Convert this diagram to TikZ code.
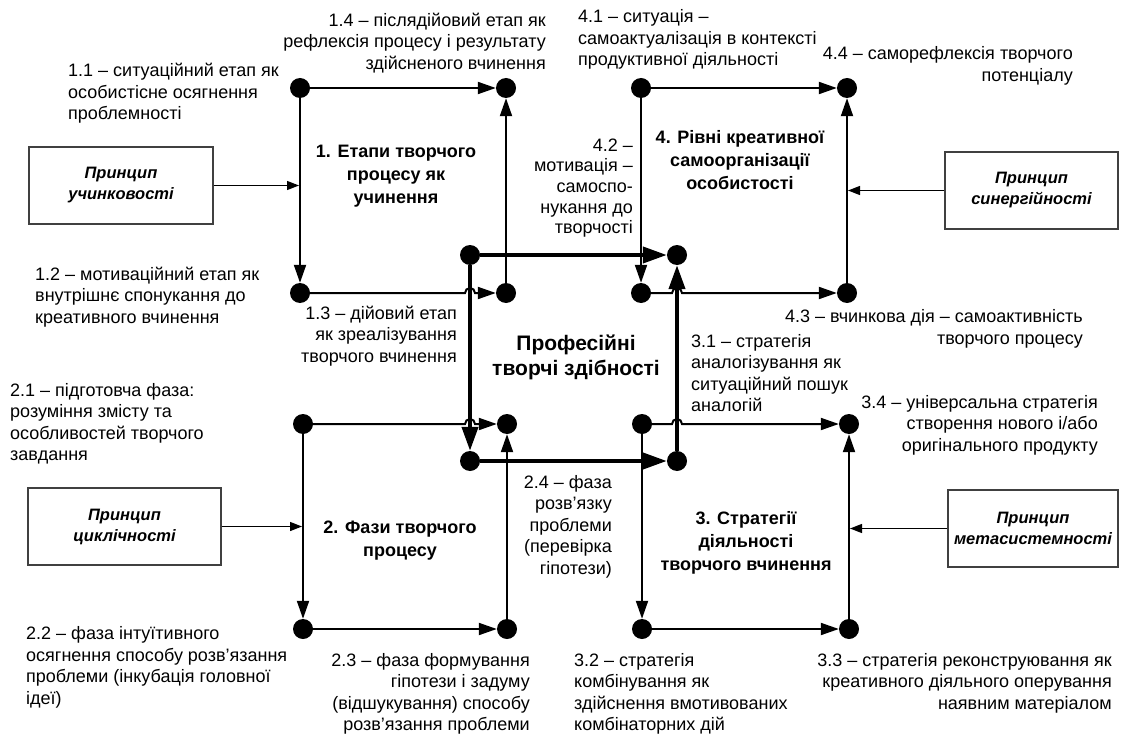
\documentclass[tikz,border=0pt]{standalone}
\usepackage{fontspec}
\setmainfont{Liberation Sans}
\usetikzlibrary{arrows.meta}
\begin{document}
\begin{tikzpicture}[x=1pt,y=-1pt,
  dot/.style={circle,fill=black,inner sep=0pt,minimum size=20pt},
  sqline/.style={line width=2pt,-{Triangle[length=18pt,width=12pt]}},
  cenline/.style={line width=4pt,-{Triangle[length=24pt,width=16pt]}},
  parr/.style={line width=1.3pt,-{Triangle[length=12pt,width=9pt]}},
  pbox/.style={draw=black!75,line width=1.2pt,inner sep=0pt,align=center,
    font=\fontsize{16.5}{21}\selectfont\bfseries\itshape},
  lbl/.style={inner sep=0pt,font=\fontsize{18}{21.5}\selectfont},
  lblL/.style={lbl,align=left,anchor=west},
  lblR/.style={lbl,align=right,anchor=east},
  ttl/.style={inner sep=0pt,align=center,font=\fontsize{18}{23}\selectfont\bfseries},
]
\fill[white] (0,0) rectangle (1123,735);
\useasboundingbox (0,0) rectangle (1123,735);

% dots
\node[dot] (d11) at (300,88) {};
\node[dot] (d14) at (506,88) {};
\node[dot] (d12) at (300,293) {};
\node[dot] (d13) at (506,293) {};
\node[dot] (d41) at (641,88) {};
\node[dot] (d44) at (847,88) {};
\node[dot] (d42) at (641,293) {};
\node[dot] (d43) at (847,293) {};
\node[dot] (d21) at (303,424) {};
\node[dot] (d24) at (507,424) {};
\node[dot] (d22) at (303,629) {};
\node[dot] (d23) at (507,629) {};
\node[dot] (d31) at (642,424) {};
\node[dot] (d34) at (849,424) {};
\node[dot] (d32) at (642,629) {};
\node[dot] (d33) at (849,629) {};
\node[dot] (ca) at (470,255) {};
\node[dot] (cb) at (677,255) {};
\node[dot] (cc) at (470,461) {};
\node[dot] (cd) at (677,461) {};

% central square
\draw[cenline] (ca) -- (cb);
\draw[cenline] (ca) -- (cc);
\draw[cenline] (cc) -- (cd);
\draw[cenline] (cd) -- (cb);

% square 1
\draw[sqline] (d11) -- (d14);
\draw[sqline] (d11) -- (d12);
\draw[sqline] (d12) -- ([xshift=-5pt]ca |- d12) arc (180:360:5) -- (d13);
\draw[sqline] (d13) -- (d14);
% square 4
\draw[sqline] (d41) -- (d44);
\draw[sqline] (d41) -- (d42);
\draw[sqline] (d42) -- ([xshift=-5pt]cb |- d42) arc (180:360:5) -- (d43);
\draw[sqline] (d43) -- (d44);
% square 2
\draw[sqline] (d21) -- ([xshift=-5pt]ca |- d21) arc (180:360:5) -- (d24);
\draw[sqline] (d21) -- (d22);
\draw[sqline] (d22) -- (d23);
\draw[sqline] (d23) -- (d24);
% square 3
\draw[sqline] (d31) -- ([xshift=-5pt]cb |- d31) arc (180:360:5) -- (d34);
\draw[sqline] (d31) -- (d32);
\draw[sqline] (d32) -- (d33);
\draw[sqline] (d33) -- (d34);

% principle boxes
\node[pbox,minimum width=184pt,minimum height=77pt] (p1) at (121,185.5) {Принцип\\учинковості};
\node[pbox,minimum width=173pt,minimum height=77pt] (p4) at (1031.5,190.5) {Принцип\\синергійності};
\node[pbox,minimum width=193pt,minimum height=77pt] (p2) at (124.5,526.5) {Принцип\\циклічності};
\node[pbox,minimum width=170pt,minimum height=77pt] (p3) at (1033,528.5) {Принцип\\метасистемності};
\coordinate (a1) at ([xshift=-1pt]d11 |- p1.east);
\coordinate (a4) at ([xshift=1pt]d44 |- p4.west);
\coordinate (a2) at ([xshift=-1pt]d21 |- p2.east);
\coordinate (a3) at ([xshift=1pt]d34 |- p3.west);
\draw[parr] (p1.east) -- (a1);
\draw[parr] (p4.west) -- (a4);
\draw[parr] (p2.east) -- (a2);
\draw[parr] (p3.west) -- (a3);

% titles
\node[ttl] (t1) at (396,176) {1. Етапи творчого\\процесу як\\учинення};
\node[ttl] (t4) at (740,160) {4. Рівні креативної\\самоорганізації\\особистості};
\node[ttl] (t2) at (400,541) {2. Фази творчого\\процесу};
\node[ttl] (t3) at (746,543) {3. Стратегії\\діяльності\\творчого вчинення};
\node[inner sep=0pt,align=center,font=\fontsize{21}{25}\selectfont\bfseries] (tc) at (576,357.5) {Професійні\\творчі здібності};

% labels
\node[lblL] (l11) at (68,93.3) {1.1 – ситуаційний етап як\\особистісне осягнення\\проблемності};
\node[lblR] (l14) at (546,42.7) {1.4 – післядійовий етап як\\рефлексія процесу і результату\\здійсненого вчинення};
\node[lblL] (l41) at (578,39.7) {4.1 – ситуація –\\самоактуалізація в контексті\\продуктивної діяльності};
\node[lblR] (l44) at (1073,66) {4.4 – саморефлексія творчого\\потенціалу};
\node[lblR,font=\fontsize{18}{20.7}\selectfont] (l42) at (633,188) {4.2 –\\мотивація –\\самоспо-\\нукання до\\творчості};
\node[lblL] (l12) at (35,296.7) {1.2 – мотиваційний етап як\\внутрішнє спонукання до\\креативного вчинення};
\node[lblR] (l13) at (457,335.7) {1.3 – дійовий етап\\як зреалізування\\творчого вчинення};
\node[lblL] (l21) at (10,424) {2.1 – підготовча фаза:\\розуміння змісту та\\особливостей творчого\\завдання};
\node[lblL] (l31) at (691,373) {3.1 – стратегія\\аналогізування як\\ситуаційний пошук\\аналогій};
\node[lblR] (l43) at (1083,329) {4.3 – вчинкова дія – самоактивність\\творчого процесу};
\node[lblR] (l34) at (1098,425) {3.4 – універсальна стратегія\\створення нового і/або\\оригінального продукту};
\node[lblR] (l24) at (612,526.6) {2.4 – фаза\\розв’язку\\проблеми\\(перевірка\\гіпотези)};
\node[lblL] (l22) at (26,667.5) {2.2 – фаза інтуїтивного\\осягнення способу розв’язання\\проблеми (інкубація головної\\ідеї)};
\node[lblR] (l23) at (530,694) {2.3 – фаза формування\\гіпотези і задуму\\(відшукування) способу\\розв’язання проблеми};
\node[lblL] (l32) at (574,694) {3.2 – стратегія\\комбінування як\\здійснення вмотивованих\\комбінаторних дій};
\node[lblR] (l33) at (1112,683) {3.3 – стратегія реконструювання як\\креативного діяльного оперування\\наявним матеріалом};
\end{tikzpicture}
\end{document}
